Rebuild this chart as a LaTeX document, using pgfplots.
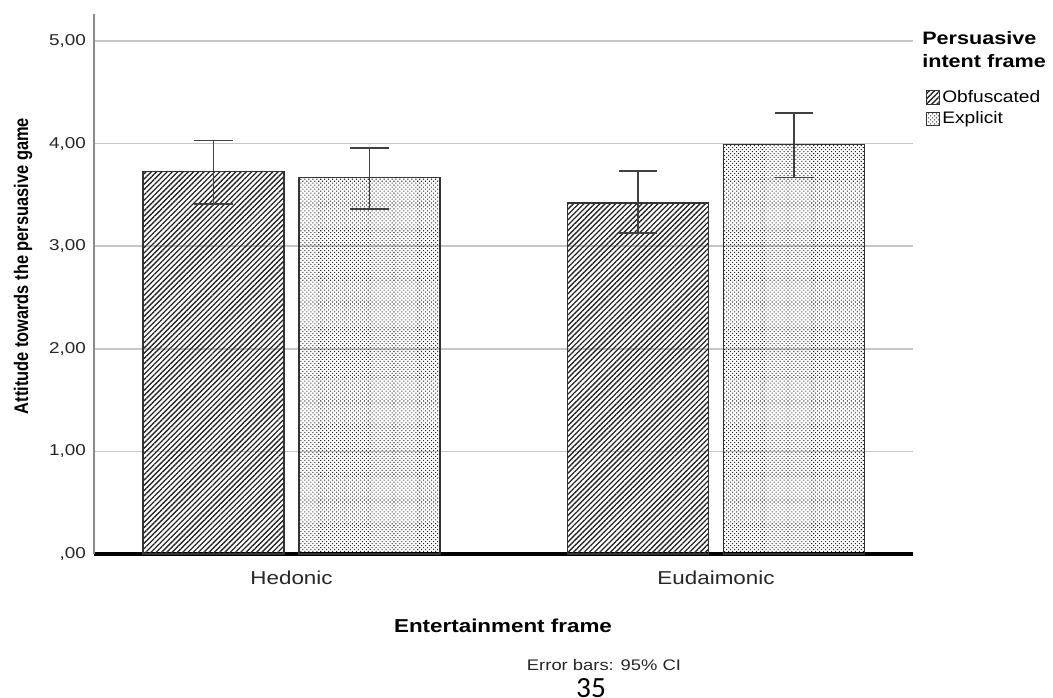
\documentclass[border=0pt]{standalone}
\usepackage{fontspec}
\setmainfont{Liberation Sans}
\newfontfamily\pagefont{Carlito}
\usepackage{pgfplots}
\pgfplotsset{compat=1.18}
\usetikzlibrary{patterns.meta}
\begin{document}
\begin{tikzpicture}
\useasboundingbox (0,0) rectangle (789.75pt,523.5pt);
\begin{axis}[
  at={(70.5pt,108pt)}, anchor=south west,
  scale only axis, width=614.25pt, height=405pt,
  xmin=0.5347, xmax=2.4641, ymin=0, ymax=5.263,
  axis x line=bottom, axis y line=left,
  axis line style={-},
  x axis line style={black, line width=2.6pt},
  y axis line style={black!45, line width=1pt},
  ymajorgrids, grid style={black!22, line width=1.1pt},
  major tick length=0pt,
  xtick={1,2}, xticklabels={Hedonic,Eudaimonic},
  ytick={0,1,2,3,4,5},
  yticklabels={{,00},{1,00},{2,00},{3,00},{4,00},{5,00}},
  yticklabel style={font=\fontsize{11.8}{13}\selectfont, text=black!85, xscale=1.2, anchor=east, xshift=-1.5pt},
  xticklabel style={font=\fontsize{14}{16}\selectfont, text=black!85, xscale=1.2, anchor=north, yshift=-9pt},
  xlabel={\textbf{Entertainment frame}},
  xlabel style={font=\fontsize{14}{16}\selectfont, xscale=1.2, at={(axis description cs:0.4994,0)}, anchor=center, yshift=-54pt},
  ylabel={\textbf{Attitude towards the persuasive game}},
  ylabel style={font=\fontsize{12.3}{14}\selectfont, at={(axis description cs:0,0.533)}, anchor=center, yshift=53.25pt, yscale=1.2},
  clip=false,
  legend image code/.code={\draw[#1, line width=0.8pt] (0pt,-5pt) rectangle (10pt,5pt);},
  legend style={at={(1.015,0.8627)}, anchor=north west, draw=none, fill=none, inner sep=0pt,
    font=\fontsize{12.5}{13}\selectfont, row sep=2.5pt, nodes={inner sep=1.5pt, xscale=1.15}},
  legend cell align=left,
]
\addplot[ybar, bar width=0.332, bar shift=0pt, draw=black!80, line width=1pt,
  pattern={Lines[angle=45,distance=2.8pt,line width=1pt]}, pattern color=black!85,
  error bars/.cd, y dir=both, y explicit,
  error bar style={line width=1.3pt, black!75},
  error mark options={rotate=90, line width=1.3pt, black!75, mark size=14.6pt}]
  coordinates {
  (0.8163,3.73) += (0,0.30) -= (0,0.32)
  (1.8163,3.42) += (0,0.31) -= (0,0.29)
  };
\addlegendentry{Obfuscated}
\addplot[ybar, bar width=0.332, bar shift=0pt, draw=black!80, line width=1pt,
  pattern={Dots[angle=45,distance=2.1pt,radius=0.55pt]}, pattern color=black!85,
  error bars/.cd, y dir=both, y explicit,
  error bar style={line width=1.3pt, black!75},
  error mark options={rotate=90, line width=1.3pt, black!75, mark size=14.6pt}]
  coordinates {
  (1.1837,3.67) += (0,0.29) -= (0,0.31)
  (2.1837,3.99) += (0,0.31) -= (0,0.32)
  };
\addlegendentry{Explicit}
\end{axis}
\node[anchor=west, inner sep=0pt, xscale=1.2, font=\fontsize{13.5}{16}\selectfont\bfseries] at (691.5pt,495pt) {Persuasive};
\node[anchor=west, inner sep=0pt, xscale=1.2, font=\fontsize{13.5}{16}\selectfont\bfseries] at (691.5pt,477.75pt) {intent frame};
\node[font=\fontsize{11.5}{13}\selectfont, text=black!85, xscale=1.2] at (453pt,24.75pt) {Error bars: 95\% CI};
\node[anchor=north, inner sep=0pt, font=\pagefont\fontsize{22}{24}\selectfont] at (443.25pt,15pt) {35};
\end{tikzpicture}
\end{document}
